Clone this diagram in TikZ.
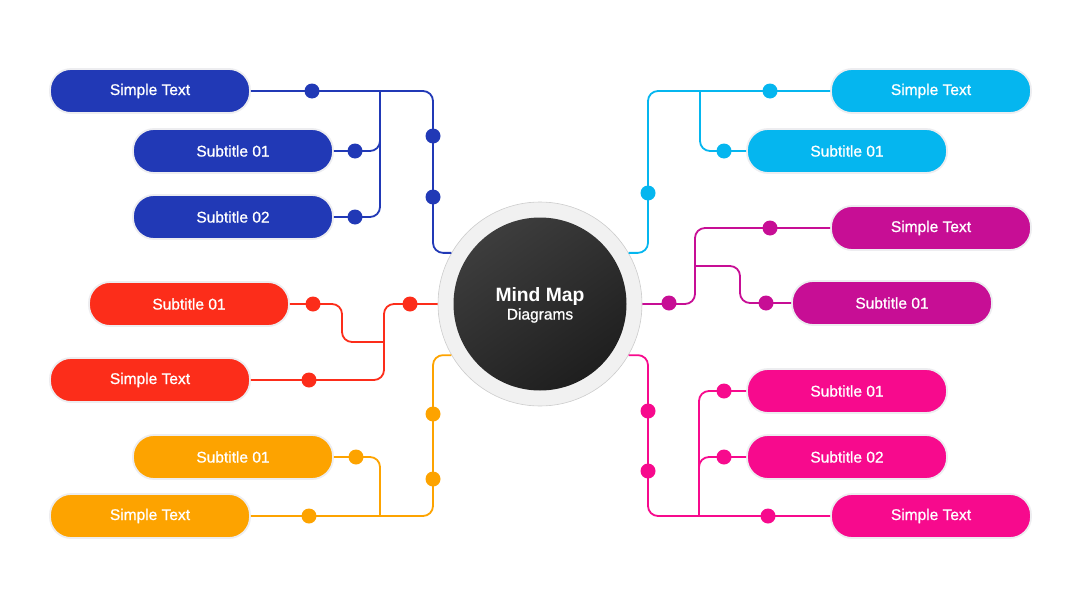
\documentclass[tikz,border=0pt]{standalone}
\usepackage{fontspec}
\setmainfont{Liberation Sans}
\newfontfamily\medfont[FakeBold=0.9]{Liberation Sans}
\usepackage{xcolor}
\usetikzlibrary{calc}
\definecolor{cBlue}{HTML}{2139B6}
\definecolor{cCyan}{HTML}{05B6EF}
\definecolor{cPurp}{HTML}{C70E95}
\definecolor{cPink}{HTML}{F70A8D}
\definecolor{cRed}{HTML}{FC2D1A}
\definecolor{cOrng}{HTML}{FDA300}
\definecolor{cRing}{HTML}{F1F1F1}
\definecolor{cHalo}{HTML}{EDEDF0}
\tikzset{
  pill/.style={rounded corners=21pt,minimum width=200pt,minimum height=44pt,
               draw=cHalo,line width=1.8pt,fill=#1,text=white,inner sep=0pt,
               font=\medfont\fontsize{15.5}{18}\selectfont},
  link/.style={draw=#1,line width=1.8pt,rounded corners=10pt},
  knob/.style={circle,fill=#1,inner sep=0pt,minimum size=15pt},
}

\begin{document}
\begin{tikzpicture}[x=1pt,y=-1pt]
\useasboundingbox (0,0) rectangle (1080,608);

% ---------------------------------------------------------------- HUB
\node[circle,minimum size=204pt,fill=cRing,draw=black!20,line width=0.6pt] (hub) at (540,304) {};
\node[circle,minimum size=173pt,top color=black!76,bottom color=black!88,shading angle=35] (core) at (540,304) {};
\node[text=white,align=center] (title) at (540,305) {%
{\fontsize{19.3}{23}\selectfont\bfseries Mind Map}\\[2pt]
{\medfont\fontsize{15.5}{18}\selectfont Diagrams}};

% ---------------------------------------------------------------- PILLS
\node[pill=cBlue] (b1) at (150,91)  {Simple Text};
\node[pill=cBlue] (b2) at (233,151) {Subtitle 01};
\node[pill=cBlue] (b3) at (233,217) {Subtitle 02};

\node[pill=cRed]  (r1) at (189,304) {Subtitle 01};
\node[pill=cRed]  (r2) at (150,380) {Simple Text};

\node[pill=cOrng] (o1) at (233,457) {Subtitle 01};
\node[pill=cOrng] (o2) at (150,516) {Simple Text};

\node[pill=cCyan] (c1) at (931,91)  {Simple Text};
\node[pill=cCyan] (c2) at (847,151) {Subtitle 01};

\node[pill=cPurp] (p1) at (931,228) {Simple Text};
\node[pill=cPurp] (p2) at (892,303) {Subtitle 01};

\node[pill=cPink] (k1) at (847,391) {Subtitle 01};
\node[pill=cPink] (k2) at (847,457) {Subtitle 02};
\node[pill=cPink] (k3) at (931,516) {Simple Text};

% ---------------------------------------------------------------- links
\draw[link=cBlue] (hub.150) -| (433,91) -- (b1.east);
\draw[link=cBlue] (380,91) |- (b2.east);
\draw[link=cBlue] (380,91) |- (b3.east);

\draw[link=cRed] (hub.west) -- (384,304) |- (r2.east);
\draw[link=cRed] (384,342) -| (342,304) -- (r1.east);

\draw[link=cOrng] (hub.210) -| (433,516) -- (o2.east);
\draw[link=cOrng] (380,516) |- (o1.east);

\draw[link=cCyan] (hub.30) -| (648,91) -- (c1.west);
\draw[link=cCyan] (700,91) |- (c2.west);

\draw[link=cPurp] (hub.east) -- (695,304) |- (p1.west);
\draw[link=cPurp] (695,266) -| (740,303) -- (p2.west);

\draw[link=cPink] (hub.330) -| (648,516) -- (k3.west);
\draw[link=cPink] (699,516) |- (k1.west);
\draw[link=cPink] (699,516) |- (k2.west);

% ---------------------------------------------------------------- knobs
\node[knob=cBlue] (bk1) at (312,91) {};
\node[knob=cBlue] (bk2) at (355,151) {};
\node[knob=cBlue] (bk3) at (355,217) {};
\node[knob=cBlue] (bk4) at (433,136) {};
\node[knob=cBlue] (bk5) at (433,197) {};

\node[knob=cRed] (rk1) at (410,304) {};
\node[knob=cRed] (rk2) at (313,304) {};
\node[knob=cRed] (rk3) at (309,380) {};

\node[knob=cOrng] (ok1) at (433,414) {};
\node[knob=cOrng] (ok2) at (433,479) {};
\node[knob=cOrng] (ok3) at (356,457) {};
\node[knob=cOrng] (ok4) at (309,516) {};

\node[knob=cCyan] (ck1) at (648,193) {};
\node[knob=cCyan] (ck2) at (770,91) {};
\node[knob=cCyan] (ck3) at (724,151) {};

\node[knob=cPurp] (pk1) at (669,303) {};
\node[knob=cPurp] (pk2) at (770,228) {};
\node[knob=cPurp] (pk3) at (766,303) {};

\node[knob=cPink] (kk1) at (648,411) {};
\node[knob=cPink] (kk2) at (648,471) {};
\node[knob=cPink] (kk3) at (724,391) {};
\node[knob=cPink] (kk4) at (724,457) {};
\node[knob=cPink] (kk5) at (768,516) {};

\end{tikzpicture}
\end{document}
